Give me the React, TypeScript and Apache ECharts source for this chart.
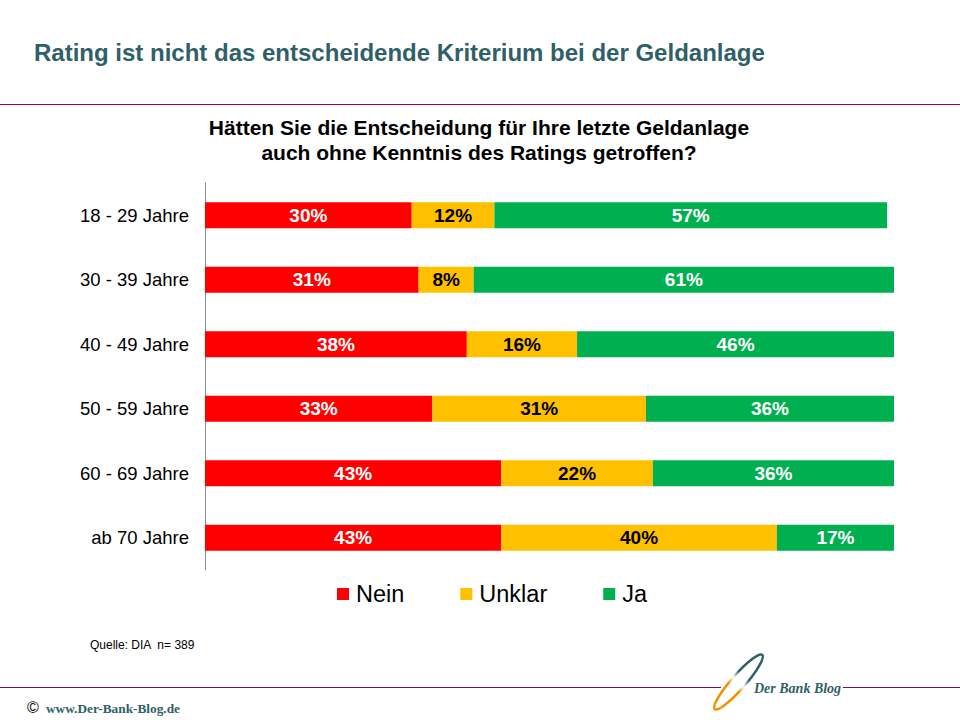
import React, { useEffect, useRef } from "react";
import * as echarts from "echarts";

const categories = ["18 - 29 Jahre", "30 - 39 Jahre", "40 - 49 Jahre", "50 - 59 Jahre", "60 - 69 Jahre", "ab 70 Jahre"];
const neinValues = [30, 31, 38, 33, 43, 43];
const unklarValues = [12, 8, 16, 31, 22, 40];
const jaValues = [57, 61, 46, 36, 36, 17];
const seriesNames = ["Nein", "Unklar", "Ja"];
const titleText = "Rating ist nicht das entscheidende Kriterium bei der Geldanlage";
const subtitleLines = ["Hätten Sie die Entscheidung für Ihre letzte Geldanlage", "auch ohne Kenntnis des Ratings getroffen?"];
const sourceText = "Quelle: DIA  n= 389";

const FONT = "'Liberation Sans', Arial, sans-serif";
const SERIF = "'Liberation Serif', 'DejaVu Serif', serif";
const TEAL = "#2f6068";

export default function App() {
  const ref = useRef<HTMLDivElement>(null);
  useEffect(() => {
    if (!ref.current) return;
    const chart = echarts.init(ref.current, null, { renderer: "svg" });
    const colors = ["#FF0000", "#FFC000", "#00B050"];
    const labelColors = ["#ffffff", "#000000", "#ffffff"];
    const data = [neinValues, unklarValues, jaValues];
    chart.setOption({
      animation: false,
      backgroundColor: "#ffffff",
      textStyle: { fontFamily: FONT },
      grid: { left: 205, width: 689, top: 183, height: 387, containLabel: false },
      xAxis: { type: "value", min: 0, max: 100, show: false },
      yAxis: {
        type: "category",
        data: categories,
        inverse: true,
        axisLine: { show: true, lineStyle: { color: "#8c8c8c", width: 1 } },
        axisTick: { show: false },
        axisLabel: { color: "#000", fontSize: 18.5, fontFamily: FONT, margin: 16 },
      },
      legend: {
        data: seriesNames,
        left: 337,
        top: 582,
        padding: 0,
        itemWidth: 12,
        itemHeight: 12,
        itemGap: 56,
        icon: "rect",
        textStyle: { fontSize: 23.5, color: "#000", fontFamily: FONT, padding: [0, 0, 0, 2] },
        selectedMode: false,
      },
      series: seriesNames.map((name, i) => ({
        name,
        type: "bar",
        stack: "total",
        barWidth: 26,
        data: data[i],
        itemStyle: { color: colors[i] },
        label: {
          show: true,
          position: "inside",
          formatter: "{c}%",
          color: labelColors[i],
          fontWeight: "bold",
          fontSize: 19,
          fontFamily: FONT,
        },
      })),
      graphic: [
        {
          type: "text",
          x: 34,
          y: 52,
          style: { text: titleText, fill: TEAL, font: `bold 24px ${FONT}`, verticalAlign: "middle" },
        },
        {
          type: "line",
          shape: { x1: 0, y1: 104.5, x2: 960, y2: 104.5 },
          style: { stroke: "#a0005a", lineWidth: 1 },
        },
        {
          type: "text",
          x: 479,
          y: 127,
          style: { text: subtitleLines[0], fill: "#000", font: `bold 21px ${FONT}`, align: "center", verticalAlign: "middle" },
        },
        {
          type: "text",
          x: 479,
          y: 152,
          style: { text: subtitleLines[1], fill: "#000", font: `bold 21px ${FONT}`, align: "center", verticalAlign: "middle" },
        },
        {
          type: "text",
          x: 90,
          y: 645,
          style: { text: sourceText, fill: "#000", font: `12px ${FONT}`, verticalAlign: "middle" },
        },
        {
          type: "line",
          shape: { x1: 0, y1: 687.5, x2: 721, y2: 687.5 },
          style: { stroke: "#7d0a5f", lineWidth: 1.2 },
        },
        {
          type: "line",
          shape: { x1: 843, y1: 687.5, x2: 960, y2: 687.5 },
          style: { stroke: "#7d0a5f", lineWidth: 1.2 },
        },
        {
          type: "group",
          x: 738.5,
          y: 682,
          rotation: -0.72,
          children: [
            {
              type: "ellipse",
              shape: { cx: 0, cy: 0, rx: 7, ry: 36 },
              style: {
                fill: null,
                lineWidth: 2.5,
                stroke: {
                  type: "linear",
                  x: 0, y: 0, x2: 0, y2: 1,
                  colorStops: [
                    { offset: 0, color: TEAL },
                    { offset: 0.38, color: TEAL },
                    { offset: 0.5, color: "#ffffff" },
                    { offset: 0.6, color: "#f39200" },
                    { offset: 1, color: "#f39200" },
                  ],
                },
              },
            },
          ],
        },
        {
          type: "text",
          x: 754,
          y: 688,
          style: { text: "Der Bank Blog", fill: TEAL, font: `italic bold 14px ${SERIF}`, verticalAlign: "middle" },
        },
        {
          type: "text",
          x: 27,
          y: 707,
          style: { text: "©", fill: "#000", font: `16px ${FONT}`, verticalAlign: "middle" },
        },
        {
          type: "text",
          x: 46,
          y: 708,
          style: { text: "www.Der-Bank-Blog.de", fill: TEAL, font: `bold 13.3px ${SERIF}`, verticalAlign: "middle" },
        },
      ],
    });
    return () => chart.dispose();
  }, []);
  return <div ref={ref} style={{ width: 960, height: 720, position: "absolute", left: 0, top: 0 }} />;
}
